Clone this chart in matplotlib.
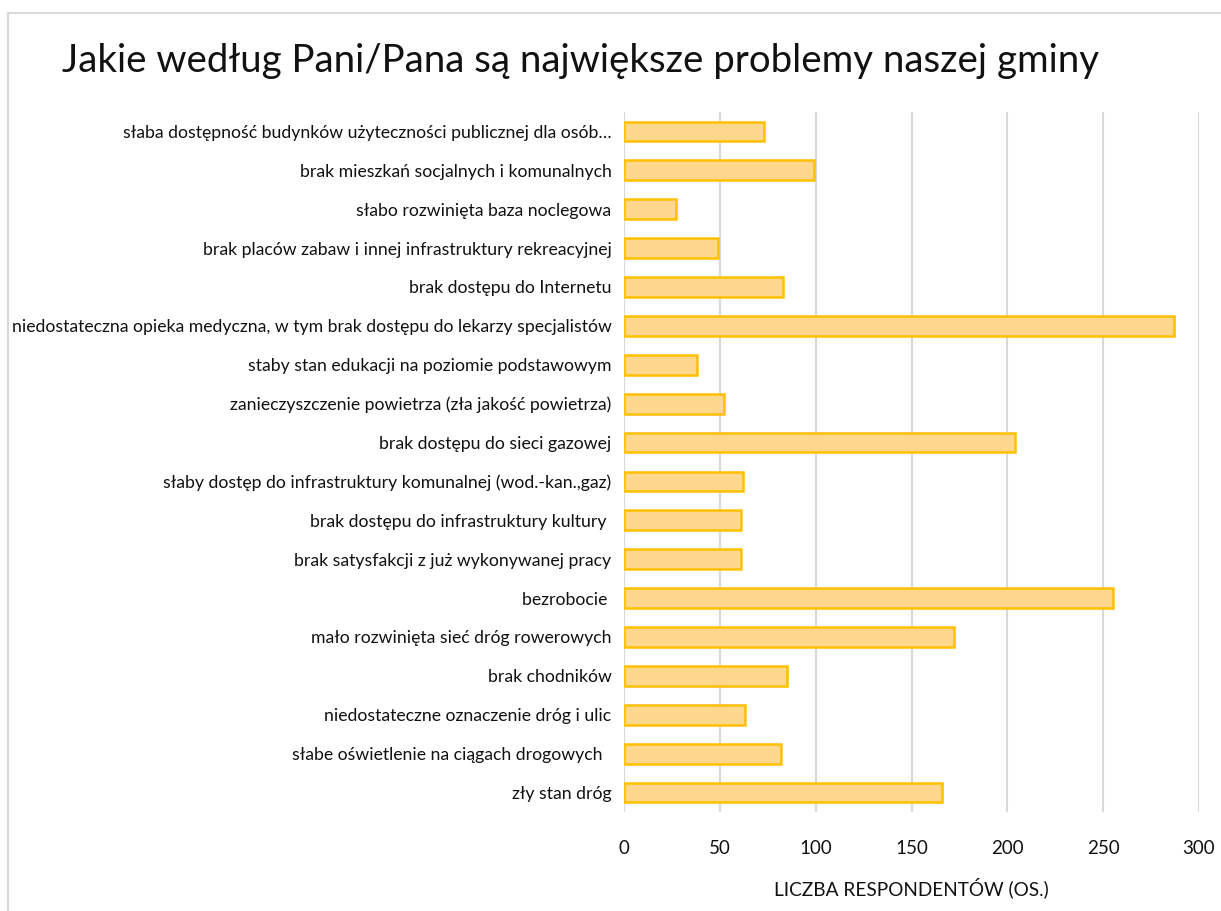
import matplotlib
matplotlib.use("Agg")
import matplotlib.pyplot as plt
from matplotlib.lines import Line2D
import numpy as np

categories = [
    "słaba dostępność budynków użyteczności publicznej dla osób…",
    "brak mieszkań socjalnych i komunalnych",
    "słabo rozwinięta baza noclegowa",
    "brak placów zabaw i innej infrastruktury rekreacyjnej",
    "brak dostępu do Internetu",
    "niedostateczna opieka medyczna, w tym brak dostępu do lekarzy specjalistów",
    "staby stan edukacji na poziomie podstawowym",
    "zanieczyszczenie powietrza (zła jakość powietrza)",
    "brak dostępu do sieci gazowej",
    "słaby dostęp do infrastruktury komunalnej (wod.-kan.,gaz)",
    "brak dostępu do infrastruktury kultury ",
    "brak satysfakcji z już wykonywanej pracy",
    "bezrobocie ",
    "mało rozwinięta sieć dróg rowerowych",
    "brak chodników",
    "niedostateczne oznaczenie dróg i ulic",
    "słabe oświetlenie na ciągach drogowych  ",
    "zły stan dróg",
]
values = [73, 99, 27, 49, 83, 287, 38, 52, 204, 62, 61, 61, 255, 172, 85, 63, 82, 166]
x_ticks = [0, 50, 100, 150, 200, 250, 300]
title = "Jakie według Pani/Pana są największe problemy naszej gminy"
xlabel = "LICZBA RESPONDENTÓW (OS.)"

plt.rcParams['font.family'] = ['Lato', 'DejaVu Sans']

W, H = 1221, 911
fig = plt.figure(figsize=(W / 100, H / 100), dpi=100)
fig.patch.set_facecolor("white")

ax = fig.add_axes([624 / W, 1 - 812 / H, (1199 - 624) / W, (812 - 112) / H])

n = len(categories)
ypos = np.arange(n)[::-1]
ax.barh(ypos, values, height=0.51, color="#FDD78C", edgecolor="#FFC000",
        linewidth=1.8, zorder=3)

ax.set_xlim(0, 300)
ax.set_ylim(-0.5, n - 0.5)
ax.set_xticks(x_ticks)
ax.set_xticklabels([str(t) for t in x_ticks], fontsize=13.5, color="#111111")
ax.set_yticks(ypos)
ax.set_yticklabels(categories, fontsize=12.7, color="#111111")
ax.tick_params(axis="both", length=0)
ax.tick_params(axis="x", pad=20)
ax.tick_params(axis="y", pad=9)
ax.xaxis.grid(True, color="#D9D9D9", linewidth=1.5, zorder=0)
ax.yaxis.grid(False)
for s in ax.spines.values():
    s.set_visible(False)
ax.set_xlabel(xlabel, fontsize=13.7, color="#111111", labelpad=15)

fig.text(580 / W, 1 - 61 / H, title, ha="center", va="center", fontsize=27.6, color="#111111")

# chart-area border (top and left visible)
fig.add_artist(Line2D([8 / W, 1.0], [1 - 13 / H, 1 - 13 / H], transform=fig.transFigure,
                      color="#D9D9D9", linewidth=1.5))
fig.add_artist(Line2D([8 / W, 8 / W], [0, 1 - 13 / H], transform=fig.transFigure,
                      color="#D9D9D9", linewidth=1.5))

fig.savefig("out.png", dpi=100, facecolor="white")
